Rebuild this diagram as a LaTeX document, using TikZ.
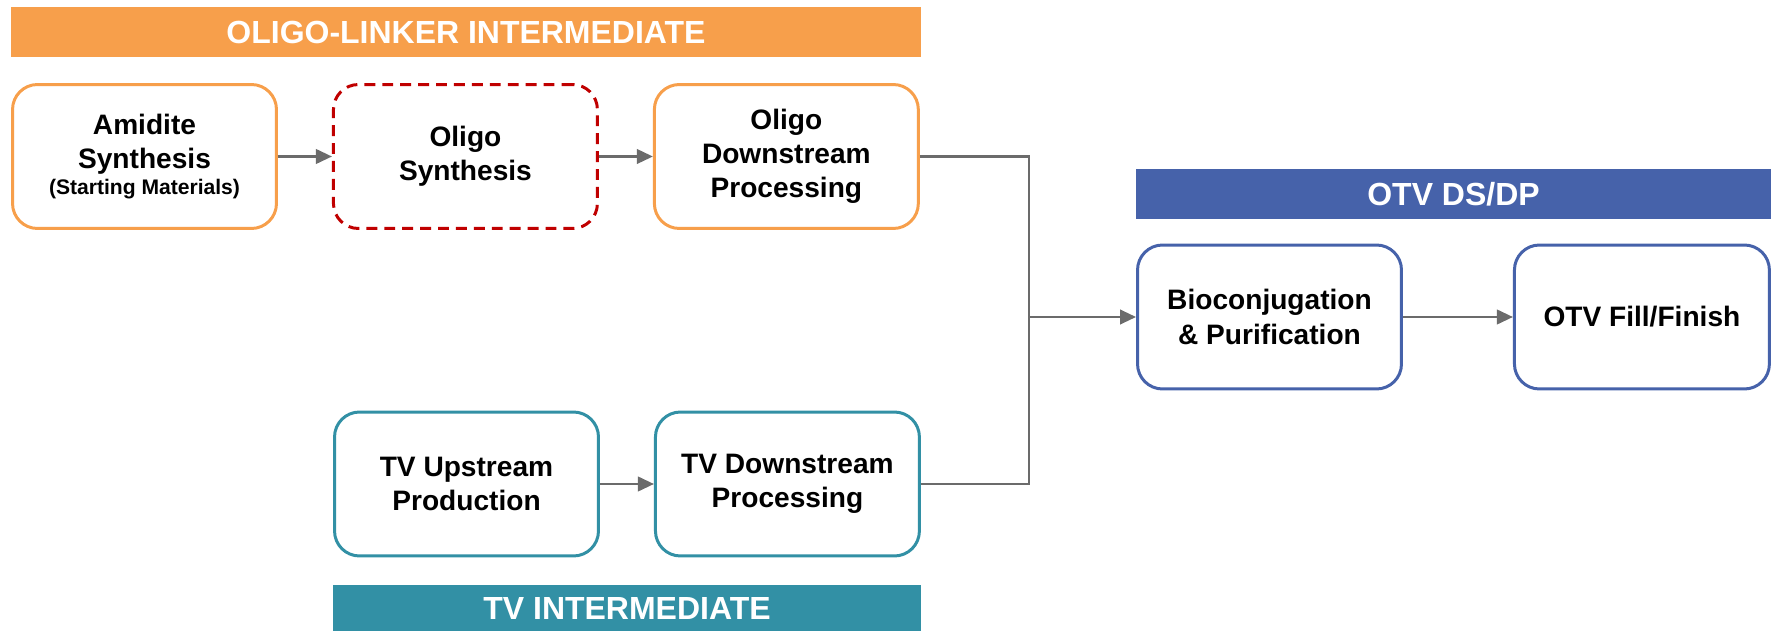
\documentclass[tikz,border=0pt]{standalone}
\usepackage{fontspec}
\setmainfont{Liberation Sans}
\usetikzlibrary{arrows.meta,positioning}

\definecolor{oliorange}{HTML}{F79F4B}
\definecolor{otvblue}{HTML}{4662AA}
\definecolor{tvteal}{HTML}{3290A5}
\definecolor{keyred}{HTML}{C00000}
\definecolor{linkgray}{HTML}{6B6B6B}

\begin{document}
\begin{tikzpicture}[
            x=0.02cm, y=-0.02cm,
            node distance=1.08cm,
            font=\bfseries\fontsize{16}{19.5}\selectfont,
            stage/.style={rectangle, rounded corners=0.5cm, minimum width=5.28cm, minimum height=2.88cm, align=center, line width=1.7pt, fill=white},
            oligostage/.style={stage, draw=oliorange},
            keystage/.style={stage, draw=keyred, dash pattern=on 6.2pt off 4pt},
            tvstage/.style={stage, draw=tvteal},
            otvstage/.style={stage, draw=otvblue},
            banner/.style={rectangle, minimum height=1cm, inner sep=0pt, text=white, font=\bfseries\fontsize{18.2}{22}\selectfont},
            link/.style={line width=1.4pt, draw=linkgray},
            arrow/.style={link, -{Triangle[length=0.32cm, width=0.29cm]}}
        ]
        \useasboundingbox (0,0) rectangle (1771,631);

        % Intestazioni
        \node (olibanner) [banner, fill=oliorange, minimum width=18.2cm] at (466,32) {OLIGO-LINKER INTERMEDIATE};
        \node (otvbanner) [banner, fill=otvblue, minimum width=12.7cm] at (1453.5,194) {OTV DS/DP};
        \node (tvbanner) [banner, fill=tvteal, minimum width=11.76cm, minimum height=0.92cm] at (627,608) {TV INTERMEDIATE};

        % Ramo oligo
        \node (amidite) [oligostage] at (144.5,156.5) {Amidite\\Synthesis\\[-4.8pt]{\fontsize{12}{14}\selectfont (Starting Materials)}};
        \node (oligosyn) [keystage, right=of amidite] {Oligo\\Synthesis};
        \node (oligods) [oligostage, right=of oligosyn] {Oligo\\Downstream\\Processing};

        % Ramo TV
        \node (tvup) [tvstage] at (466.5,484) {TV Upstream\\Production};
        \node (tvds) [tvstage, right=of tvup] {TV Downstream\\Processing};

        % DS/DP
        \node (bioconj) [otvstage] at (1269.5,317) {Bioconjugation\\\& Purification};
        \node (fillfin) [otvstage, minimum width=5.1cm, right=2.2cm of bioconj] {OTV Fill/Finish};

        % Collegamenti
        \coordinate (merge) at (1029,317);
        \draw [arrow] (amidite) -- (oligosyn);
        \draw [arrow] (oligosyn) -- (oligods);
        \draw [arrow] (tvup) -- (tvds);
        \draw [link] (oligods.east) -| (merge);
        \draw [link] (tvds.east) -| (merge);
        \draw [arrow] (merge) -- (bioconj);
        \draw [arrow] (bioconj) -- (fillfin);

    \end{tikzpicture}
\end{document}
